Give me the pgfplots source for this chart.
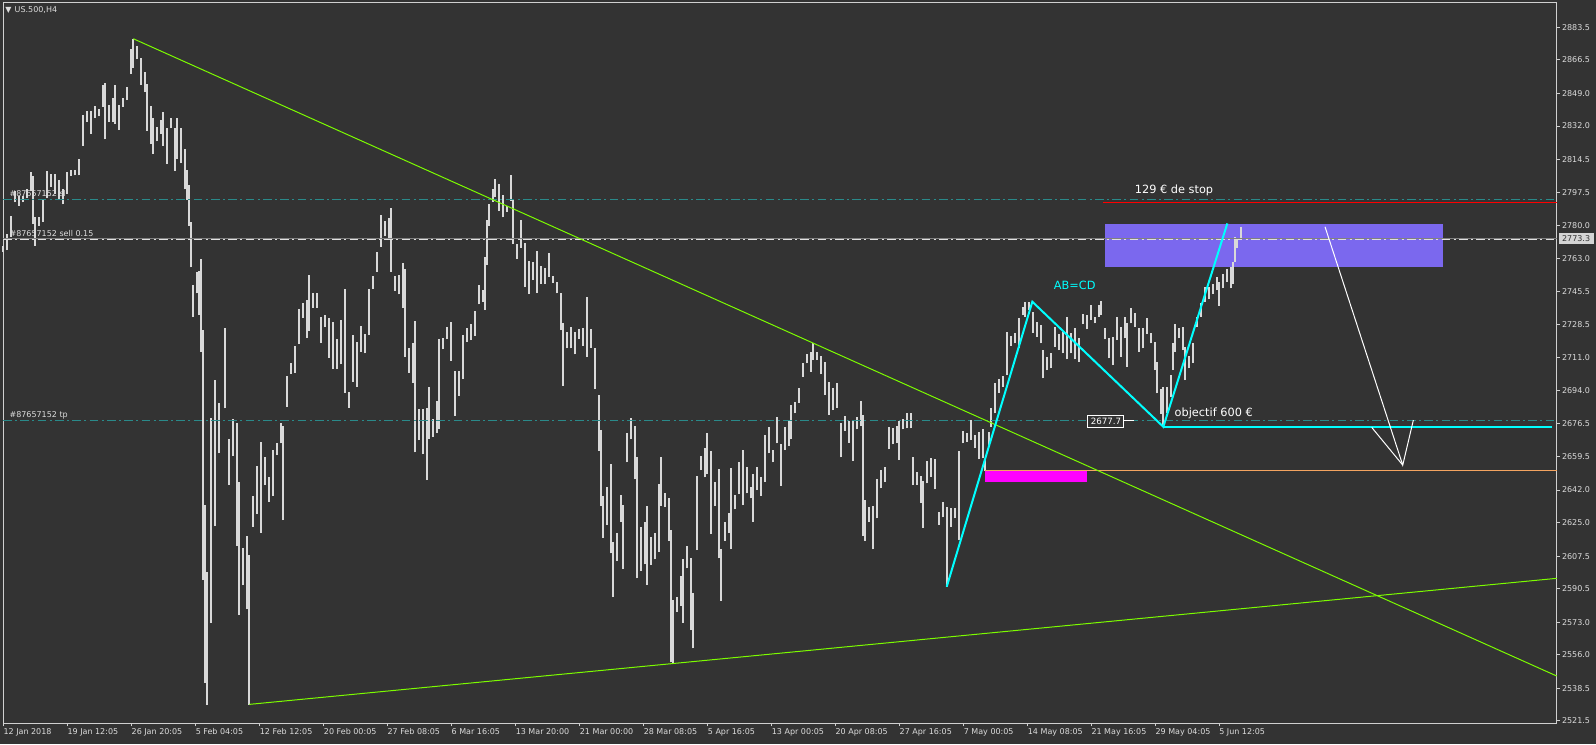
\documentclass[border=0pt]{standalone}
\usepackage{fontspec}
\setmainfont{DejaVu Sans}
\usepackage{pgfplots}
\usepackage{pgfplotstable}
\pgfplotsset{compat=1.18}
\definecolor{bg}{HTML}{333333}
\definecolor{barc}{HTML}{D9D9D9}
\definecolor{frm}{HTML}{D0D0D0}
\definecolor{txt}{HTML}{DCDCDC}
\definecolor{lgreen}{HTML}{7CFC00}
\definecolor{tealc}{HTML}{2A8A8A}
\definecolor{cyanl}{HTML}{00FFFF}
\definecolor{slate}{HTML}{7B68EE}
\definecolor{mag}{HTML}{FF00FF}
\definecolor{sandy}{HTML}{F4A460}
\definecolor{bidgray}{HTML}{808080}
\definecolor{pricebox}{HTML}{D4D4D4}

% H4 bars: x position, low, high
\pgfplotstableread{
x l h
3.3 2766.2 2769.6
7.3 2767.3 2775.9
11.3 2774.2 2785.0
15.3 2792.2 2797.9
19.3 2790.5 2795.7
23.3 2792.2 2795.7
27.3 2794.5 2799.1
31.3 2797.9 2808.1
33.3 2781.0 2805.9
35.3 2769.6 2784.3
39.3 2779.8 2784.3
43.3 2782.1 2793.4
47.3 2794.5 2808.6
51.3 2800.2 2807.0
55.3 2796.8 2807.0
59.3 2793.4 2803.6
63.3 2791.1 2799.1
67.3 2796.8 2808.1
71.3 2805.9 2809.3
75.3 2806.3 2809.3
79.3 2806.3 2814.9
83.3 2821.7 2838.0
87.3 2834.2 2839.8
91.3 2828.1 2839.8
95.3 2836.4 2842.5
99.3 2837.1 2840.9
103.3 2842.1 2853.4
105.3 2825.1 2854.5
109.3 2834.2 2843.2
113.3 2834.2 2846.6
115.3 2833.0 2853.4
119.3 2830.1 2843.2
123.3 2842.1 2846.6
127.3 2845.5 2852.3
131.3 2859.1 2872.0
133.3 2862.5 2877.6
137.3 2867.0 2873.8
141.3 2853.4 2867.4
145.3 2850.0 2860.2
147.3 2829.6 2853.8
151.3 2822.8 2842.5
153.3 2817.6 2836.4
157.3 2824.0 2831.4
161.3 2828.1 2835.3
163.3 2821.7 2839.4
167.3 2812.2 2830.8
171.3 2830.8 2836.4
175.3 2808.6 2830.8
177.3 2814.9 2836.4
181.3 2812.7 2830.8
185.3 2799.1 2819.9
187.3 2793.4 2809.3
189.3 2779.8 2801.3
191.3 2758.3 2782.1
193.3 2732.2 2748.8
197.3 2744.7 2755.6
199.3 2733.4 2756.1
201.3 2714.1 2762.8
203.3 2595.2 2725.5
205.3 2541.4 2634.1
207.3 2529.7 2599.3
211.3 2572.7 2679.4
215.3 2623.2 2699.4
219.3 2661.1 2687.2
225.3 2684.6 2726.4
229.3 2644.6 2668.4
233.3 2659.7 2678.9
237.3 2612.7 2676.8
239.3 2576.7 2646.1
243.3 2592.4 2611.9
247.3 2579.8 2618.0
249.3 2529.7 2608.0
253.3 2622.8 2638.8
257.3 2629.4 2654.5
261.3 2619.7 2667.2
265.3 2644.6 2659.4
269.3 2635.9 2648.9
273.3 2638.8 2662.9
277.3 2660.2 2666.4
281.3 2666.4 2676.8
283.3 2626.3 2675.4
287.3 2685.5 2701.5
291.3 2702.5 2708.4
295.3 2703.2 2717.2
299.3 2718.2 2736.3
303.3 2731.9 2739.4
307.3 2721.5 2741.2
309.3 2725.0 2754.2
313.3 2737.2 2744.7
317.3 2737.2 2744.7
321.3 2718.9 2732.4
325.3 2727.2 2733.3
329.3 2711.0 2731.6
333.3 2705.1 2729.5
337.3 2705.1 2720.8
341.3 2707.6 2730.7
345.3 2692.8 2746.9
349.3 2684.9 2693.3
353.3 2698.5 2722.9
357.3 2695.9 2719.4
361.3 2714.2 2727.6
365.3 2713.3 2723.4
369.3 2722.9 2746.9
373.3 2746.9 2753.7
377.3 2756.0 2766.1
381.3 2769.0 2785.5
385.3 2774.6 2782.4
389.3 2772.9 2784.1
391.3 2756.0 2789.0
395.3 2746.0 2753.7
399.3 2744.1 2754.2
403.3 2737.2 2760.3
405.3 2711.6 2757.4
409.3 2703.2 2716.0
413.3 2698.0 2718.8
415.3 2661.7 2730.2
419.3 2668.1 2684.1
423.3 2660.8 2684.1
427.3 2647.2 2684.6
429.3 2668.6 2695.6
433.3 2669.8 2679.0
437.3 2671.9 2688.4
439.3 2673.8 2720.8
443.3 2715.4 2721.5
447.3 2720.8 2726.9
451.3 2709.5 2729.5
455.3 2680.8 2704.1
459.3 2691.1 2704.1
463.3 2699.9 2722.9
467.3 2719.4 2726.7
471.3 2720.3 2728.6
475.3 2722.5 2735.6
479.3 2738.9 2749.0
483.3 2740.3 2746.4
485.3 2736.0 2763.8
487.3 2759.4 2782.9
489.3 2779.8 2791.3
493.3 2792.5 2799.1
495.3 2794.8 2804.3
499.3 2787.6 2801.6
503.3 2784.3 2796.0
507.3 2787.3 2790.4
511.3 2792.9 2806.4
513.3 2770.4 2793.4
517.3 2762.6 2770.4
521.3 2768.5 2782.9
525.3 2748.1 2770.8
529.3 2744.3 2761.5
533.3 2751.6 2761.2
537.3 2745.0 2766.8
541.3 2749.5 2758.9
545.3 2749.5 2758.0
549.3 2753.3 2765.6
553.3 2750.2 2753.9
557.3 2744.7 2750.7
561.3 2725.5 2745.0
563.3 2696.4 2729.0
567.3 2716.0 2724.3
571.3 2716.0 2727.2
575.3 2712.8 2724.6
579.3 2720.8 2726.0
583.3 2717.3 2726.4
587.3 2711.6 2742.6
591.3 2716.3 2726.0
595.3 2694.7 2716.3
599.3 2662.5 2691.6
601.3 2633.8 2673.3
603.3 2617.1 2638.8
607.3 2623.7 2643.7
611.3 2608.9 2655.6
613.3 2586.1 2615.0
617.3 2604.9 2619.7
621.3 2625.4 2639.4
623.3 2600.7 2634.1
627.3 2656.4 2671.9
631.3 2668.4 2679.4
635.3 2647.7 2675.4
637.3 2595.9 2659.4
641.3 2599.8 2622.8
645.3 2603.2 2625.4
647.3 2592.4 2633.6
651.3 2602.8 2617.6
655.3 2605.8 2619.4
659.3 2609.8 2645.1
661.3 2633.6 2659.4
665.3 2633.3 2640.3
669.3 2615.5 2637.7
671.3 2552.0 2621.1
673.3 2551.5 2584.5
677.3 2578.4 2586.3
681.3 2581.4 2597.1
683.3 2572.7 2605.8
687.3 2601.1 2612.7
691.3 2568.9 2606.6
693.3 2559.3 2588.4
697.3 2610.6 2649.3
701.3 2652.4 2659.7
705.3 2648.6 2664.1
707.3 2650.3 2671.6
711.3 2619.0 2662.5
715.3 2633.6 2646.0
719.3 2606.3 2652.9
721.3 2584.2 2611.0
725.3 2615.5 2625.4
729.3 2619.7 2629.8
731.3 2611.0 2653.3
735.3 2631.9 2639.4
739.3 2639.9 2656.7
743.3 2634.1 2662.9
747.3 2640.3 2654.1
751.3 2637.7 2643.4
753.3 2625.4 2650.3
757.3 2642.0 2654.1
761.3 2638.8 2648.6
765.3 2646.3 2670.7
769.3 2661.1 2674.7
773.3 2656.4 2662.9
777.3 2666.4 2679.9
781.3 2644.2 2666.0
785.3 2662.9 2674.7
789.3 2664.9 2678.2
791.3 2668.4 2686.4
795.3 2682.0 2688.1
799.3 2687.6 2695.1
803.3 2701.1 2708.4
807.3 2708.1 2712.8
811.3 2703.7 2713.9
813.3 2709.8 2718.6
817.3 2709.8 2714.2
821.3 2702.4 2711.9
825.3 2691.6 2709.0
829.3 2681.1 2698.5
833.3 2683.7 2695.1
837.3 2684.9 2697.7
841.3 2659.0 2676.8
845.3 2672.8 2680.6
849.3 2666.7 2678.2
853.3 2657.3 2678.5
857.3 2673.7 2679.9
861.3 2675.4 2688.6
863.3 2618.0 2681.1
865.3 2615.5 2636.8
869.3 2625.4 2633.3
873.3 2611.0 2633.6
877.3 2627.2 2647.7
881.3 2642.9 2652.4
885.3 2646.3 2653.8
889.3 2663.2 2674.7
893.3 2665.8 2674.2
897.3 2666.7 2675.4
899.3 2657.8 2678.0
903.3 2673.7 2678.9
907.3 2674.2 2682.0
911.3 2674.2 2682.0
913.3 2644.6 2659.4
917.3 2644.6 2651.5
921.3 2635.3 2649.3
923.3 2622.3 2646.8
927.3 2645.5 2657.3
931.3 2648.9 2658.5
935.3 2642.3 2658.0
939.3 2623.7 2630.6
943.3 2627.7 2635.6
947.3 2591.5 2632.9
951.3 2622.8 2632.7
955.3 2627.2 2632.4
959.3 2615.9 2662.5
963.3 2666.4 2672.9
967.3 2667.2 2671.6
971.3 2668.1 2678.5
975.3 2663.7 2670.7
979.3 2658.0 2672.4
983.3 2658.5 2673.7
985.3 2652.0 2657.6
989.3 2665.5 2672.4
991.3 2675.0 2684.6
995.3 2682.0 2697.7
999.3 2692.8 2699.8
1003.3 2695.9 2701.5
1007.3 2702.0 2724.6
1011.3 2717.2 2722.4
1015.3 2718.6 2723.8
1019.3 2716.0 2731.6
1023.3 2733.3 2737.7
1025.3 2732.4 2740.3
1029.3 2736.0 2740.3
1033.3 2724.1 2735.1
1037.3 2722.0 2729.8
1041.3 2718.6 2728.1
1043.3 2700.3 2715.1
1047.3 2704.6 2711.6
1051.3 2705.5 2713.5
1055.3 2716.8 2727.2
1059.3 2715.1 2723.4
1063.3 2713.3 2724.6
1067.3 2710.2 2732.1
1071.3 2713.3 2723.8
1075.3 2710.2 2726.4
1079.3 2709.0 2721.2
1083.3 2728.6 2733.9
1087.3 2725.9 2733.3
1091.3 2730.7 2738.6
1095.3 2729.0 2732.4
1099.3 2732.4 2738.6
1101.3 2733.3 2740.8
1105.3 2720.7 2726.4
1109.3 2710.7 2721.2
1113.3 2707.2 2722.0
1117.3 2720.3 2732.4
1121.3 2711.6 2727.2
1125.3 2721.2 2732.4
1127.3 2706.4 2729.0
1131.3 2729.0 2736.8
1135.3 2727.2 2734.2
1139.3 2714.2 2726.4
1143.3 2716.0 2726.4
1147.3 2723.4 2731.6
1151.3 2718.6 2724.1
1155.3 2704.6 2719.4
1157.3 2692.5 2709.0
1161.3 2681.7 2694.5
1163.3 2675.0 2695.9
1167.3 2682.0 2695.9
1171.3 2690.7 2702.0
1173.3 2704.6 2718.6
1175.3 2714.2 2728.6
1179.3 2721.2 2726.4
1183.3 2715.1 2727.2
1185.3 2699.4 2716.8
1189.3 2705.5 2711.9
1193.3 2708.4 2718.6
1197.3 2727.2 2732.4
1201.3 2732.4 2739.4
1205.3 2740.3 2747.8
1209.3 2741.5 2747.8
1213.3 2744.3 2749.8
1217.3 2746.4 2753.3
1219.3 2738.0 2750.7
1223.3 2747.3 2754.7
1227.3 2750.7 2757.2
1231.3 2747.3 2758.2
1233.3 2749.8 2761.2
1235.3 2761.2 2774.2
1237.3 2768.2 2772.9
1241.3 2772.9 2779.3
}\bars

\begin{document}
\begin{tikzpicture}
\fill[bg, use as bounding box] (-2.25pt,-15.5pt) rectangle (1194.75pt,542.5pt);
\begin{axis}[
  at={(0,0)}, anchor=south west,
  scale only axis, width=1165.3pt, height=540.75pt,
  xmin=3, xmax=1556.7, ymin=2520.2, ymax=2896.6,
  clip=false,
  axis line style={frm, line width=0.75pt},
  xtick={3.3,67.3,131.4,195.5,259.6,323.7,387.3,451.4,515.5,579.6,643.5,707.6,771.6,835.3,899.4,963.5,1027.6,1091.2,1155.3,1219},
  xticklabels={12 Jan 2018,19 Jan 12:05,26 Jan 20:05,5 Feb 04:05,12 Feb 12:05,20 Feb 00:05,27 Feb 08:05,6 Mar 16:05,13 Mar 20:00,21 Mar 00:00,28 Mar 08:05,5 Apr 16:05,13 Apr 00:05,20 Apr 08:05,27 Apr 16:05,7 May 00:05,14 May 08:05,21 May 16:05,29 May 04:05,5 Jun 12:05},
  ytick={2521.5,2538.5,2556.0,2573.0,2590.5,2607.5,2625.0,2642.0,2659.5,2676.5,2694.0,2711.0,2728.5,2745.5,2763.0,2780.0,2797.5,2814.5,2832.0,2849.0,2866.5,2883.5},
  yticklabels={2521.5,2538.5,2556.0,2573.0,2590.5,2607.5,2625.0,2642.0,2659.5,2676.5,2694.0,2711.0,2728.5,2745.5,2763.0,2780.0,2797.5,2814.5,2832.0,2849.0,2866.5,2883.5},
  xtick pos=bottom, ytick pos=right, yticklabel pos=right,
  tick align=outside,
  major tick length=2.25pt,
  tick style={frm, line width=0.75pt},
  ticklabel style={font=\fontsize{6}{7}\selectfont, text=txt, inner sep=0pt},
  xticklabel style={anchor=north west, yshift=-1.5pt},
  yticklabel style={anchor=west, xshift=1.5pt},
]
% background objects
\addplot[fill=slate, draw=none] coordinates {(1105,2758.6) (1443,2758.6) (1443,2780.8) (1105,2780.8)} -- cycle;
\addplot[fill=mag, draw=none] coordinates {(985,2646.2) (1087.3,2646.2) (1087.3,2652.0) (985,2652.0)} -- cycle;

% price bars (low to high)
\addplot[draw=none, mark=none, forget plot,
  error bars/.cd, y dir=plus, y explicit, error mark=none,
  error bar style={draw=barc, line width=1.5pt, line cap=butt, solid}]
  table[x=x, y=l, y error expr=\thisrow{h}-\thisrow{l}] {\bars};

% order lines
\addplot[tealc, line width=0.75pt, dash pattern=on 6.5pt off 2.5pt on 1.5pt off 2.5pt] coordinates {(3,2793.7) (1556.7,2793.7)};
\addplot[tealc, line width=0.75pt, dash pattern=on 6.5pt off 2.5pt on 1.5pt off 2.5pt] coordinates {(3,2678.2) (1556.7,2678.2)};
\addplot[bidgray, line width=0.75pt] coordinates {(3,2773.4) (1556.7,2773.4)};
\addplot[white!88!black, line width=1pt, dash pattern=on 6.5pt off 2.5pt on 1.5pt off 2.5pt] coordinates {(3,2772.9) (1556.7,2772.9)};
\addplot[red, line width=1pt] coordinates {(1103,2792.2) (1556.7,2792.2)};
\addplot[sandy, line width=0.75pt] coordinates {(985,2652.4) (1556.7,2652.4)};

% trend lines
\addplot[lgreen, line width=0.75pt] coordinates {(133.3,2877.6) (1556.7,2544.9)};
\addplot[lgreen, line width=0.75pt] coordinates {(249.3,2530.1) (1556.7,2595.9)};

% AB=CD pattern
\addplot[cyanl, line width=1.5pt] coordinates {(946.7,2591.5) (1032.3,2740.3) (1163.3,2675.0) (1227.3,2781.2)};
\addplot[cyanl, line width=1.5pt] coordinates {(1163.3,2675.0) (1551.7,2675.0)};

% projected path
\addplot[white, line width=0.75pt] coordinates {(1325,2779.4) (1402.7,2655.0) (1413.3,2678.5)};
\addplot[white, line width=0.75pt] coordinates {(1371.7,2674.7) (1402.7,2655.0)};
\addplot[white, line width=0.75pt] coordinates {(1124,2678.2) (1134,2678.2)};

% texts
\node[anchor=west, text=txt, font=\fontsize{6}{7}\selectfont, inner sep=0pt] at (axis cs:5,2892.4) {▼\hspace{2.5pt}US.500,H4};
\node[anchor=west, text=txt, font=\fontsize{6}{7}\selectfont, inner sep=0pt] at (axis cs:9.3,2796.8) {\#87657152 sl};
\node[anchor=west, text=txt, font=\fontsize{6}{7}\selectfont, inner sep=0pt] at (axis cs:9.3,2775.9) {\#87657152 sell 0.15};
\node[anchor=west, text=txt, font=\fontsize{6}{7}\selectfont, inner sep=0pt] at (axis cs:9.3,2680.8) {\#87657152 tp};
\node[text=white, font=\fontsize{8.5}{10}\selectfont, inner sep=0pt] at (axis cs:1174,2798.3) {129 € de stop};
\node[text=cyanl, font=\fontsize{8.5}{10}\selectfont, inner sep=0pt] at (axis cs:1074.7,2748.8) {AB=CD};
\node[text=white, font=\fontsize{8.5}{10}\selectfont, inner sep=0pt] at (axis cs:1213.7,2681.9) {objectif 600 €};
\node[draw=white, fill=bg, text=white, line width=0.75pt, minimum width=27pt, minimum height=9pt, inner sep=0pt, font=\fontsize{6.5}{7}\selectfont] at (axis cs:1105.9,2677.8) {2677.7};
\node[fill=pricebox, text=bg, anchor=west, minimum width=26.25pt, minimum height=8pt, inner sep=0pt, font=\fontsize{6}{7}\selectfont] at (axis cs:1558.3,2773.3) {2773.3};
\end{axis}
\end{tikzpicture}
\end{document}
